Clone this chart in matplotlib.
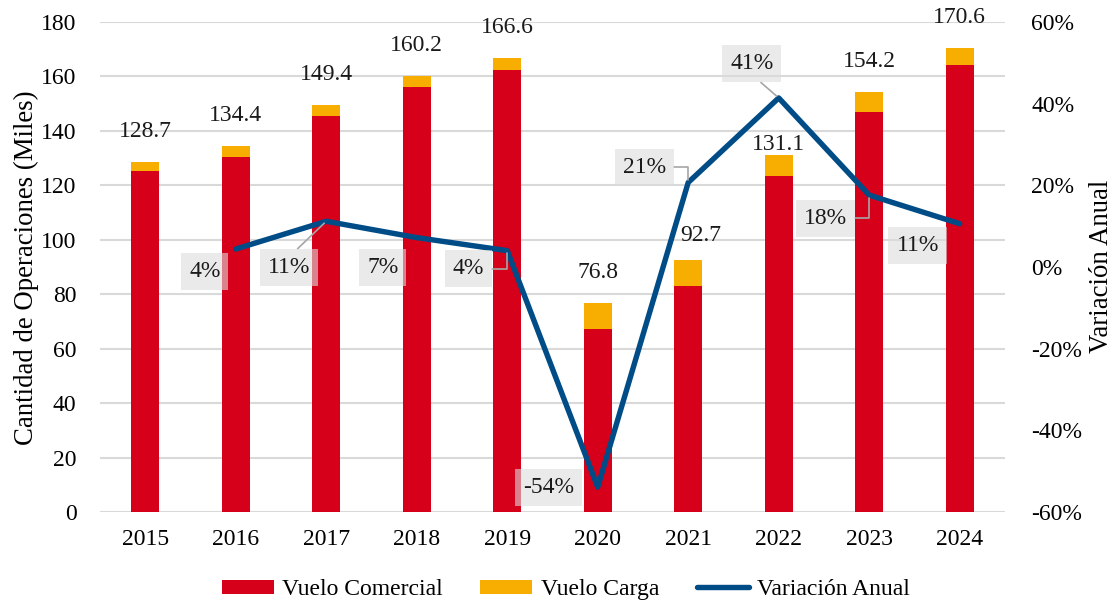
import numpy as np
import matplotlib.pyplot as plt

plt.rcParams['font.family'] = ['Liberation Serif', 'DejaVu Serif']
plt.rcParams['font.size'] = 17

years = ['2015', '2016', '2017', '2018', '2019', '2020', '2021', '2022', '2023', '2024']
comercial = [125.3, 130.4, 145.6, 156.3, 162.4, 67.1, 83.1, 123.5, 147.0, 164.1]
carga = [3.4, 4.0, 3.8, 3.9, 4.2, 9.7, 9.6, 7.6, 7.2, 6.5]
totales = [128.7, 134.4, 149.4, 160.2, 166.6, 76.8, 92.7, 131.1, 154.2, 170.6]
variacion = [0.044, 0.112, 0.072, 0.040, -0.539, 0.207, 0.414, 0.176, 0.106]

rojo = '#d7001b'
naranja = '#f8ae00'
azul = '#004c87'
gris = '#d9d9d9'

fig = plt.figure(figsize=(11.16, 6.04), dpi=100)
ax = fig.add_axes([0.0896, 0.1523, 0.8109, 0.8113])

x = np.arange(len(years))
ax.bar(x, comercial, width=0.31, color=rojo, label='Vuelo Comercial', zorder=2)
ax.bar(x, carga, width=0.31, bottom=comercial, color=naranja, label='Vuelo Carga', zorder=2)

# etiquetas de totales (2021 y 2022 desplazadas como en el original)
tot_off = [(0, 25)] * 6 + [(13, 19), (0, 5), (0, 25), (0, 25)]
for i, t in enumerate(totales):
    ax.annotate(f'{t:.1f}', (x[i], t), xytext=tot_off[i], textcoords='offset pixels',
                ha='center', va='baseline', color='#1a1a1a')

ax.set_xlim(-0.5, len(years) - 0.5)
ax.set_ylim(0, 180)
ax.set_yticks(np.arange(0, 181, 20))
ax.set_xticks(x)
ax.set_xticklabels(years)
ax.yaxis.grid(True, color=gris, lw=1.5, zorder=0)
ax.set_axisbelow(True)
for s in ax.spines.values():
    s.set_visible(False)
ax.tick_params(length=0)
ax.tick_params(axis='y', pad=17)
ax.tick_params(axis='x', pad=12)

ax2 = ax.twinx()
ax2.plot(x[1:], variacion, color=azul, lw=3.9, solid_capstyle='round',
         solid_joinstyle='round', label='Variación Anual', zorder=3)
ax2.set_ylim(-0.6, 0.6)
ax2.set_yticks(np.arange(-0.6, 0.61, 0.2))
ax2.set_yticklabels([f'{v:.0f}%' for v in np.arange(-60, 61, 20)])
for s in ax2.spines.values():
    s.set_visible(False)
ax2.tick_params(length=0, pad=19)

# etiquetas de variación con cajas grises semitransparentes
pct_off = [(-31, -22), (-37, -46), (-34, -30), (-39, -18), (-49, 0),
           (-44, 15), (-27, 34), (-44, -23), (-42, -22)]
leader = [None, ('arc3', (0.5, 1)), None, ('angle,angleA=0,angleB=90,rad=0', (1, 0.5)), None,
          ('angle,angleA=0,angleB=90,rad=0', (1, 0.5)), ('arc3', (0.5, 0)),
          ('angle,angleA=0,angleB=90,rad=0', (1, 0.5)), None]
for i, v in enumerate(variacion):
    props = None
    if leader[i] is not None:
        props = dict(arrowstyle='-', color='#a6a6a6', lw=1.2, shrinkA=0, shrinkB=2,
                     connectionstyle=leader[i][0], relpos=leader[i][1])
    ax2.annotate(f'{v * 100:.0f}%', (x[i + 1], v), xytext=pct_off[i],
                 textcoords='offset pixels', ha='center', va='center', color='#1a1a1a',
                 bbox=dict(boxstyle='square,pad=0.34', fc='#dcdcdc', ec='none', alpha=0.6),
                 arrowprops=props, zorder=4)

fig.text(26 / 1116, 0.557, 'Cantidad de Operaciones (Miles)', rotation=90,
         ha='center', va='center', fontsize=19.3)
fig.text(1102 / 1116, 0.559, 'Variación Anual', rotation=90, ha='center', va='center',
         fontsize=19.3)

h1, l1 = ax.get_legend_handles_labels()
h2, l2 = ax2.get_legend_handles_labels()
fig.legend(h1 + h2, l1 + l2, loc='center', bbox_to_anchor=(0.507, 0.024), ncol=3,
           frameon=False, handlelength=2.2, handleheight=0.55, handletextpad=0.35,
           columnspacing=1.6)

fig.savefig('out.png', dpi=100)
